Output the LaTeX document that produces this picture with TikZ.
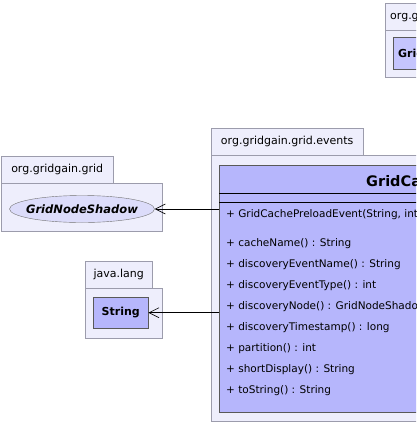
\documentclass[tikz,border=0pt]{standalone}
\usepackage{fontspec}
\setmainfont{DejaVu Sans}
\definecolor{PkgFill}{HTML}{EEEEFC}
\definecolor{PkgLine}{HTML}{9C9CAC}
\definecolor{ClassFill}{HTML}{B6B6FC}
\definecolor{ShadowFill}{HTML}{DCDCFA}
\usetikzlibrary{arrows.meta,positioning,shapes.geometric}

\begin{document}
\begin{tikzpicture}[
  x=1pt,y=-1pt,
  pkgbody/.style={draw=PkgLine,fill=PkgFill,inner sep=0pt,anchor=north west},
  pkgtab/.style={draw=PkgLine,fill=PkgFill,inner sep=0pt,
    minimum height=27pt,font=\fontsize{11}{12}\selectfont},
  classbox/.style={draw=black!65,fill=ClassFill,inner sep=0pt,anchor=north west},
  member/.style={anchor=base west,inner sep=0pt,font=\fontsize{10.5}{12}\selectfont},
  dep/.style={-{Straight Barb[length=10pt,width=10pt]},semithick}
]
\useasboundingbox (0,0) rectangle (416,424);
\clip (0,0) rectangle (416,424);

% package at the top right, cut off by the border
\node[pkgbody,minimum width=60pt,minimum height=47pt] (toppkg) at (385,30) {};
\node[pkgtab,minimum width=60pt,anchor=south west,text width=50pt]
  (toptab) at (toppkg.north west) {org.gridgain};
\node[classbox,fill=ClassFill!80,minimum width=50pt,minimum height=32pt,
  font=\fontsize{11}{12}\selectfont\bfseries,text width=40pt] (topcls) at (393,37) {GridCache};

% org.gridgain.grid
\node[pkgbody,minimum width=161pt,minimum height=48pt] (gridpkg) at (1,183) {};
\node[pkgtab,minimum width=112pt,anchor=south west] (gridtab) at (gridpkg.north west)
  {org.gridgain.grid};
\node[ellipse,draw=black!55,fill=ShadowFill,inner sep=0pt,inner xsep=-6pt,
  minimum width=145pt,minimum height=27pt,
  font=\fontsize{11.5}{12}\selectfont\bfseries\itshape] (shadow) at (82,209) {GridNodeShadow};

% java.lang
\node[pkgbody,minimum width=77pt,minimum height=50pt] (langpkg) at (85,288) {};
\node[pkgtab,minimum width=67pt,anchor=south west] (langtab) at (langpkg.north west)
  {java.lang};
\node[classbox,minimum width=55pt,minimum height=31pt,
  font=\fontsize{11}{12}\selectfont\bfseries] (string) at (93,297) {String};

% org.gridgain.grid.events
\node[pkgbody,minimum width=260pt,minimum height=266pt] (eventpkg) at (211,155) {};
\node[pkgtab,minimum width=152pt,anchor=south west] (eventtab) at (eventpkg.north west)
  {org.gridgain.grid.events};
\node[classbox,minimum width=494pt,minimum height=247pt] (evcls) at (219,165) {};
\node[anchor=base west,inner sep=0pt,font=\fontsize{14.5}{16}\selectfont\bfseries]
  (evname) at (366,186) {GridCachePreloadEvent};
\draw (219,193) -- (460,193);
\draw (219,202) -- (460,202);

\node[member] (ctor) at (226,217) {+ GridCachePreloadEvent(String, int, GridNodeShadow, int, long)};
\node[member] (m1) at (226,246) {+ cacheName() : String};
\node[member] (m2) at (226,267) {+ discoveryEventName() : String};
\node[member] (m3) at (226,288) {+ discoveryEventType() : int};
\node[member] (m4) at (226,309) {+ discoveryNode() : GridNodeShadow};
\node[member] (m5) at (226,330) {+ discoveryTimestamp() : long};
\node[member] (m6) at (226,351) {+ partition() : int};
\node[member] (m7) at (226,372) {+ shortDisplay() : String};
\node[member] (m8) at (226,393) {+ toString() : String};

% dependencies
\draw[dep] (evcls.west |- shadow.east) -- (shadow.east);
\draw[dep] (evcls.west |- string.east) -- (string.east);
\end{tikzpicture}
\end{document}
